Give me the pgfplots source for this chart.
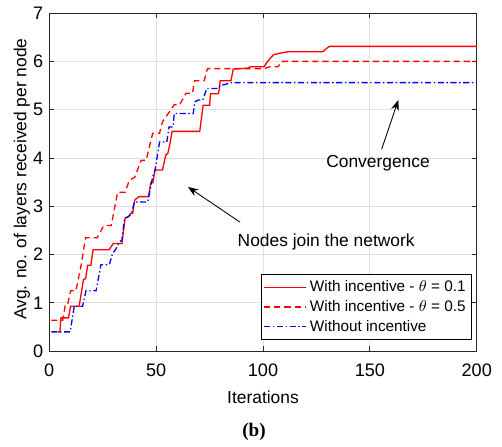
\documentclass[border=0pt]{standalone}
\usepackage{pgfplots}
\pgfplotsset{compat=1.18}
\usepackage{fontspec}
\setmainfont{Liberation Sans}
\newfontfamily\serifb{Liberation Serif}
\usetikzlibrary{arrows.meta}
\definecolor{gridgray}{RGB}{225,225,225}
\definecolor{axgray}{RGB}{38,38,38}
\begin{document}
\begin{tikzpicture}
\begin{axis}[
  scale only axis, width=245.8pt, height=194.4pt,
  xmin=0, xmax=200, ymin=0, ymax=7,
  xtick={0,50,100,150,200}, ytick={0,1,2,3,4,5,6,7},
  grid=major, major grid style={gridgray, line width=0.5pt},
  axis line style={axgray, line width=0.5pt},
  tick style={axgray, line width=0.5pt},
  tick align=inside, tick pos=both, major tick length=2.9pt,
  xticklabel pos=lower, yticklabel pos=left,
  /pgf/number format/assume math mode=true,
  ticklabel style={font=\fontsize{10.4}{12}\selectfont, text=black},
  xticklabel style={yshift=-3.9pt},
  label style={font=\fontsize{10}{12}\selectfont},
  xlabel={Iterations},
  ylabel={Avg. no. of layers received per node},
  xlabel style={at={(axis description cs:0.5,-0.136)}, anchor=center},
  ylabel style={at={(axis description cs:-0.064,0.509)}, anchor=center},
  clip=false,
  legend style={at={(axis cs:197.8,0.228)}, anchor=south east,
    font=\fontsize{8.8}{10.5}\selectfont, draw=black, line width=0.5pt,
    cells={anchor=west}, inner sep=1.5pt, row sep=-0.5pt},
  legend image code/.code={\draw[#1] (0cm,0cm) -- (0.84cm,0cm);},
]
\addplot[red, line width=0.75pt] coordinates {
(4,0.4)(5,0.4)(5.5,0.69)(9,0.69)(10,0.93)(14,0.93)(16,1.48)(17,1.5)(18,1.78)(19.5,1.78)(20.5,2.1)(28,2.1)(30,2.23)(34,2.23)(35.5,2.75)(37,2.78)(38,2.85)(39,2.85)(40,3.13)(42,3.2)(46.5,3.2)(47.5,3.49)(48.5,3.49)(49.5,3.75)(53,3.75)(54.5,4.06)(55.5,4.1)(56.5,4.3)(57.5,4.55)(70.4,4.55)(72,5.09)(75,5.09)(75.5,5.33)(79.2,5.33)(80,5.6)(85,5.6)(86.1,5.84)(93,5.86)(94,5.89)(100.5,5.89)(102,5.99)(103.5,6.07)(105,6.14)(108,6.17)(112,6.2)(128,6.2)(129,6.24)(131,6.31)(200,6.31)
};
\addlegendentry{With incentive - $\theta$ = 0.1}
\addplot[red, line width=0.75pt, dash pattern=on 3.5pt off 2.3pt] coordinates {
(1,0.64)(6.3,0.64)(7.5,0.95)(8.5,0.95)(10,1.25)(12.5,1.25)(15,1.8)(17,2.35)(22.5,2.35)(25.5,2.6)(29,2.6)(32,3.29)(35.5,3.29)(37.5,3.54)(40,3.6)(43,3.95)(45.3,3.95)(48.4,4.51)(51.6,4.51)(53,4.75)(58.5,5.1)(61,5.1)(64,5.34)(67,5.34)(68,5.6)(72.5,5.6)(74,5.85)(100.3,5.85)(103.4,5.89)(107,5.89)(109,6.0)(200,6.0)
};
\addlegendentry{With incentive - $\theta$ = 0.5}
\addplot[blue, line width=0.75pt, dash pattern=on 3.5pt off 1.5pt on 0.8pt off 1.5pt] coordinates {
(1,0.4)(9.8,0.4)(11.7,0.93)(15.6,0.93)(17.2,1.25)(21.9,1.25)(24.2,1.79)(28.1,1.79)(29.7,2.03)(31,2.1)(32.8,2.26)(34,2.3)(35.2,2.75)(37.5,2.8)(38.5,2.85)(39.8,3.09)(46.1,3.09)(47,3.3)(48.4,3.61)(49.5,3.75)(51.6,4.33)(55,4.33)(56,4.64)(57.9,4.64)(58.5,4.92)(67.4,4.92)(68,5.16)(69.8,5.2)(71.9,5.2)(73.7,5.44)(79.2,5.44)(80,5.5)(83,5.53)(84.6,5.56)(200,5.56)
};
\addlegendentry{Without incentive}
\draw[-{Stealth[length=6pt,width=4.5pt]}, line width=0.5pt] (axis cs:89.3,2.67) -- (axis cs:64.9,3.40);
\draw[-{Stealth[length=6pt,width=4.5pt]}, line width=0.5pt] (axis cs:155.5,4.18) -- (axis cs:163.3,5.20);
\node[anchor=west, font=\fontsize{10}{12}\selectfont, inner sep=0pt] at (axis cs:88.0,2.26) {Nodes join the network};
\node[anchor=center, font=\fontsize{10}{12}\selectfont, inner sep=0pt] at (axis cs:153.8,3.89) {Convergence};
\end{axis}
\node[font=\serifb\bfseries\fontsize{11}{13}\selectfont] at ([xshift=-5.2pt,yshift=-46.6pt]current axis.south) {(b)};
\path[use as bounding box] ([xshift=-28.3pt,yshift=-52.9pt]current axis.south west) rectangle ([xshift=14.5pt,yshift=7.5pt]current axis.north east);
\end{tikzpicture}
\end{document}
